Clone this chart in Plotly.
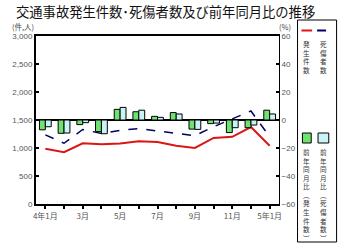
import plotly.graph_objects as go

months = ["4年1月", "4年2月", "4年3月", "4年4月", "4年5月", "4年6月", "4年7月",
          "4年8月", "4年9月", "4年10月", "4年11月", "4年12月", "5年1月"]
tick_text = ["4年1月", "", "3月", "", "5月", "", "7月", "", "9月", "", "11月", "", "5年1月"]

accidents = [985, 925, 1085, 1065, 1082, 1120, 1105, 1040, 1000, 1180, 1200, 1374, 1040]
casualties = [1235, 1085, 1330, 1260, 1316, 1345, 1305, 1258, 1220, 1380, 1520, 1660, 1200]
yoy_accidents = [-7, -9.5, -3.3, -8.3, 7.6, 5.9, 2.6, 5.3, -6.5, -2.6, -9, -5.5, 7]
yoy_casualties = [-4.8, -9.3, -1.9, -9.8, 9, 7.0, 1.9, 4.3, -6.7, -2.2, -5.5, -3.6, 4.3]

GREEN = "#6fe36f"
CYAN = "#c8f4f4"
RED = "#dd1515"
NAVY = "#000066"
FONT = "Liberation Sans, Noto Sans CJK JP"
CJK = "Noto Sans CJK JP"

W, H = 340, 246
L, R, T, B = 30, 279, 36, 204

def px(x):
    return (x - L) / (R - L)

def py(y):
    return (B - y) / (B - T)

fig = go.Figure()
fig.add_trace(go.Bar(x=months, y=yoy_accidents, yaxis="y2", name="前年同月比（発生件数）",
                     marker=dict(color=GREEN, line=dict(color="black", width=1))))
fig.add_trace(go.Bar(x=months, y=yoy_casualties, yaxis="y2", name="前年同月比（死傷者数）",
                     marker=dict(color=CYAN, line=dict(color="black", width=1))))
fig.add_trace(go.Scatter(x=months, y=accidents, mode="lines", name="発生件数",
                         line=dict(color=RED, width=2)))
fig.add_trace(go.Scatter(x=months, y=casualties, mode="lines", name="死傷者数",
                         line=dict(color=NAVY, width=1.5, dash="dash")))

shapes = []
annotations = []

# legend box
shapes.append(dict(type="rect", xref="paper", yref="paper", x0=px(298), x1=px(338),
                   y0=py(242), y1=py(20), line=dict(color="black", width=1), fillcolor="white"))
shapes.append(dict(type="line", xref="paper", yref="paper", x0=px(302), x1=px(313),
                   y0=py(30.5), y1=py(30.5), line=dict(color=RED, width=2)))
shapes.append(dict(type="line", xref="paper", yref="paper", x0=px(318), x1=px(331),
                   y0=py(30.5), y1=py(30.5), line=dict(color=NAVY, width=2, dash="dash")))
shapes.append(dict(type="rect", xref="paper", yref="paper", x0=px(303), x1=px(312),
                   y0=py(143), y1=py(133), line=dict(color="black", width=1), fillcolor=GREEN))
shapes.append(dict(type="rect", xref="paper", yref="paper", x0=px(319), x1=px(330),
                   y0=py(143), y1=py(133), line=dict(color="black", width=1), fillcolor=CYAN))

def vtext(s, x, ytop):
    annotations.append(dict(text="<br>".join(list(s)), xref="paper", yref="paper",
                            x=px(x), y=py(ytop), xanchor="center", yanchor="top",
                            showarrow=False, align="center", borderpad=0,
                            font=dict(family=CJK, size=6.6, color="#333")))

vtext("発生件数", 307.5, 38)
vtext("死傷者数", 325, 38)
vtext("前年同月比︵発生件数︶", 307.5, 146)
vtext("前年同月比︵死傷者数︶", 325, 146)

annotations.append(dict(text="交通事故発生件数･死傷者数及び前年同月比の推移", xref="paper", yref="paper",
                        x=px(163), y=py(11), xanchor="center", yanchor="middle", showarrow=False,
                        borderpad=0, font=dict(family=CJK, size=13.3, color="#111")))
annotations.append(dict(text="(件,人)", xref="paper", yref="paper", x=px(4), y=py(26.5),
                        xanchor="left", yanchor="middle", showarrow=False, borderpad=0,
                        font=dict(family=CJK, size=7.5, color="#444")))
annotations.append(dict(text="(%)", xref="paper", yref="paper", x=px(278), y=py(26.5),
                        xanchor="left", yanchor="middle", showarrow=False, borderpad=0,
                        font=dict(family=CJK, size=7.5, color="#444")))

fig.update_layout(
    width=W, height=H,
    margin=dict(l=L, r=W - R, t=T, b=H - B, pad=0),
    paper_bgcolor="white", plot_bgcolor="white",
    showlegend=False,
    barmode="group", bargap=0.37, bargroupgap=0,
    font=dict(family=FONT, size=8, color="#555"),
    xaxis=dict(type="category", tickvals=months, ticktext=tick_text, showgrid=False,
               showline=True, linecolor="black", linewidth=2, mirror=True,
               ticks="outside", ticklen=3, tickcolor="black", tickwidth=1.5,
               tickfont=dict(family=CJK, size=8, color="#555")),
    yaxis=dict(range=[0, 3000], tickvals=[0, 500, 1000, 1500, 2000, 2500, 3000],
               tickformat=",", showgrid=False, zeroline=False,
               showline=True, linecolor="black", linewidth=2,
               ticks="inside", ticklen=3, tickcolor="black", tickwidth=1.5,
               tickfont=dict(size=8, color="#555")),
    yaxis2=dict(range=[-60, 60], tickvals=[-60, -40, -20, 0, 20, 40, 60], overlaying="y",
                side="right", showgrid=False, zeroline=True, zerolinecolor="black",
                zerolinewidth=1.5, showline=True, linecolor="black", linewidth=1,
                ticks="inside", ticklen=3, tickcolor="black", tickwidth=1.5,
                tickfont=dict(size=8, color="#555")),
    shapes=shapes, annotations=annotations,
)

fig.write_html("out.html")
